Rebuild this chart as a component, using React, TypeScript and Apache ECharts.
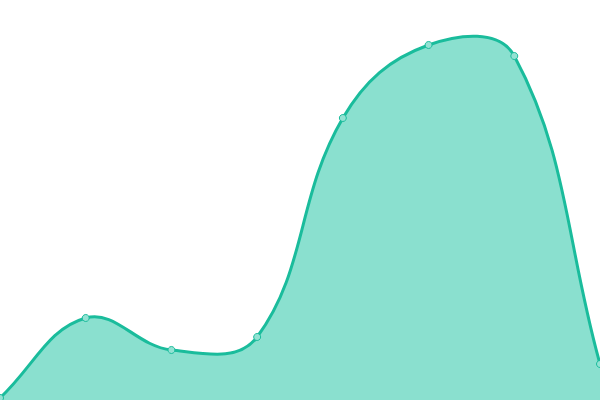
import { useEffect, useRef } from "react";
import * as echarts from "echarts";

const categories = ["A", "B", "C", "D", "E", "F", "G", "H"];
const values = [2, 82, 50, 63, 282, 355, 344, 36];

const LINE = "#1abc9c";
const AREA = "#8ae0cf";
const TENSION = 0.4;

// spline control points in the style of a tension-weighted cardinal curve
function buildPath(pts: number[][]) {
    const n = pts.length;
    const cps: { prev: number[]; next: number[] }[] = [];
    for (let i = 0; i < n; i++) {
        const prev = pts[Math.max(0, i - 1)];
        const cur = pts[i];
        const next = pts[Math.min(n - 1, i + 1)];
        const d01 = Math.hypot(cur[0] - prev[0], cur[1] - prev[1]);
        const d12 = Math.hypot(next[0] - cur[0], next[1] - cur[1]);
        const sum = d01 + d12 || 1;
        const fa = (TENSION * d01) / sum;
        const fb = (TENSION * d12) / sum;
        const dx = next[0] - prev[0];
        const dy = next[1] - prev[1];
        cps.push({
            prev: [cur[0] - fa * dx, cur[1] - fa * dy],
            next: [cur[0] + fb * dx, cur[1] + fb * dy],
        });
    }
    let d = `M${pts[0][0]},${pts[0][1]}`;
    for (let i = 1; i < n; i++) {
        const a = cps[i - 1].next;
        const b = cps[i].prev;
        d += ` C${a[0]},${a[1]} ${b[0]},${b[1]} ${pts[i][0]},${pts[i][1]}`;
    }
    return d;
}

export default function App() {
    const containerRef = useRef<HTMLDivElement | null>(null);

    useEffect(() => {
        if (!containerRef.current) return;
        const chart = echarts.init(containerRef.current, null, { renderer: "svg" });

        chart.setOption({
            animation: false,
            backgroundColor: "#ffffff",
            grid: { left: 0, right: 0, top: 0, bottom: 0 },
            xAxis: {
                type: "category",
                data: categories,
                boundaryGap: false,
                show: false,
            },
            yAxis: { type: "value", min: 0, max: 400, show: false },
            series: [
                {
                    type: "custom",
                    data: values.map((v, i) => [i, v]),
                    clip: true,
                    z: 1,
                    renderItem: (params: any, api: any) => {
                        if (params.dataIndex !== 0) return null;
                        const pts = values.map((v, i) => api.coord([i, v]));
                        const base = api.coord([0, 0])[1];
                        const line = buildPath(pts);
                        const area = `${line} L${pts[pts.length - 1][0]},${base} L${pts[0][0]},${base} Z`;
                        return {
                            type: "group",
                            children: [
                                {
                                    type: "path",
                                    shape: { pathData: area },
                                    style: { fill: AREA, stroke: "none" },
                                },
                                {
                                    type: "path",
                                    shape: { pathData: line },
                                    style: { fill: "none", stroke: LINE, lineWidth: 3 },
                                },
                            ],
                        };
                    },
                },
                {
                    type: "scatter",
                    data: values.map((v, i) => [i, v]),
                    symbol: "circle",
                    symbolSize: 7,
                    z: 3,
                    itemStyle: { color: "#93e2d3", borderColor: LINE, borderWidth: 1, opacity: 1 },
                },
            ],
        });

        return () => chart.dispose();
    }, []);

    return (
        <div
            ref={containerRef}
            style={{ position: "fixed", left: 0, top: 0, width: 600, height: 400 }}
        />
    );
}
